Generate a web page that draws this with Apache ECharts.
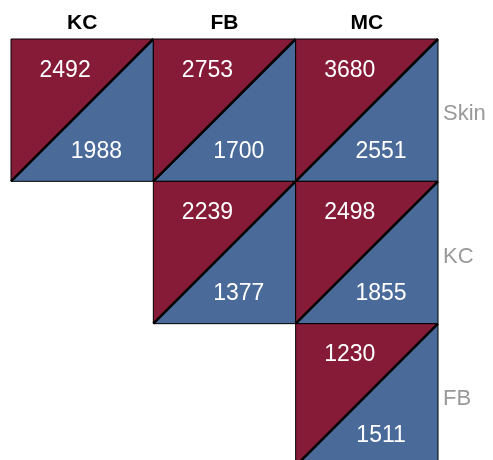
<!DOCTYPE html>
<html>
<head>
<meta charset="utf-8">
<script src="https://cdn.jsdelivr.net/npm/echarts@6/dist/echarts.min.js"></script>
<style>html,body{margin:0;padding:0;background:#fff}#c{width:493px;height:460px}</style>
</head>
<body>
<div id="c"></div>
<script>
var columns = ['KC', 'FB', 'MC'];
var rows = ['Skin', 'KC', 'FB'];
var cellRow = [0, 0, 0, 1, 1, 2];
var cellCol = [0, 1, 2, 1, 2, 2];
var upperValues = [2492, 2753, 3680, 2239, 2498, 1230];
var lowerValues = [1988, 1700, 2551, 1377, 1855, 1511];

var RED = '#861b38';
var BLUE = '#4a6a9a';
var FONT = 'Liberation Sans, Arial, Helvetica, sans-serif';

var data = cellRow.map(function (r, i) {
  return [cellCol[i], r, upperValues[i], lowerValues[i]];
});

var chart = echarts.init(document.getElementById('c'), null, {renderer: 'canvas'});
chart.setOption({
  animation: false,
  grid: {left: 11, top: 39, width: 427, height: 427, outerBoundsMode: 'none', containLabel: false},
  xAxis: {
    type: 'category', data: columns, position: 'top',
    axisLine: {show: false}, axisTick: {show: false}, splitLine: {show: false},
    axisLabel: {color: '#000', fontSize: 21, fontWeight: 'bold', fontFamily: FONT, margin: 5}
  },
  yAxis: {
    type: 'category', data: rows, position: 'right', inverse: true,
    axisLine: {show: false}, axisTick: {show: false}, splitLine: {show: false},
    axisLabel: {color: '#999999', fontSize: 22, fontFamily: FONT, margin: 5, verticalAlign: 'top', lineHeight: 8}
  },
  series: [{
    type: 'custom',
    data: data,
    clip: false,
    renderItem: function (params, api) {
      var c = api.coord([api.value(0), api.value(1)]);
      var s = api.size([1, 1]);
      var w = s[0], h = s[1];
      var x0 = c[0] - w / 2, y0 = c[1] - h / 2;
      var x1 = x0 + w, y1 = y0 + h;
      return {
        type: 'group',
        children: [
          {type: 'polygon', shape: {points: [[x0, y0], [x1, y0], [x0, y1]]}, style: {fill: RED}},
          {type: 'polygon', shape: {points: [[x1, y0], [x1, y1], [x0, y1]]}, style: {fill: BLUE}},
          {type: 'rect', shape: {x: x0, y: y0, width: w, height: h}, style: {fill: null, stroke: '#000', lineWidth: 1}},
          {type: 'line', shape: {x1: x0, y1: y1, x2: x1, y2: y0}, style: {stroke: '#000', lineWidth: 2.5}},
          {type: 'text', x: x0 + 0.38 * w, y: y0 + 0.22 * h, style: {text: String(api.value(2)), fill: '#fff', font: '23px ' + FONT, align: 'center', verticalAlign: 'middle'}},
          {type: 'text', x: x0 + 0.6 * w, y: y0 + 0.79 * h, style: {text: String(api.value(3)), fill: '#fff', font: '23px ' + FONT, align: 'center', verticalAlign: 'middle'}}
        ]
      };
    }
  }]
});
</script>
</body>
</html>
